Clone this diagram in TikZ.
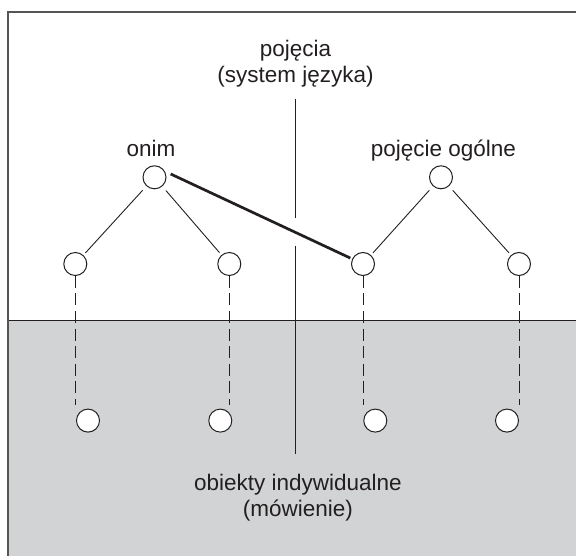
\documentclass[tikz,border=0pt]{standalone}
\usepackage{fontspec}
\setmainfont{Liberation Sans}
\usetikzlibrary{calc}

\definecolor{ink}{RGB}{35,31,32}
\definecolor{framegray}{RGB}{85,85,85}
\definecolor{speechgray}{RGB}{209,211,212}

\tikzset{
  conceptnode/.style={circle, draw=ink, line width=1pt, fill=white,
    minimum size=23pt, inner sep=0pt},
  branch/.style={draw=ink, line width=0.9pt, shorten <=5.5pt, shorten >=3pt},
  reference/.style={draw=ink, line width=2.7pt, shorten >=2pt},
  realisation/.style={draw=ink, line width=1pt, dash pattern=on 12pt off 5.5pt},
  divider/.style={draw=ink, line width=1.2pt},
  caption/.style={text=ink, inner sep=0pt, anchor=base, align=center,
    font=\fontsize{22.5}{26}\selectfont},
}

\begin{document}
\begin{tikzpicture}[x=1pt, y=-1pt]
  \useasboundingbox (0,0) rectangle (576,556);

  % lower band: the level of speech
  \fill[speechgray] (8,320) rectangle (576,556);
  \draw[ink, line width=1pt] (8,320) -- (576,320);

  % open frame
  \draw[framegray, line width=1.3pt] (576,12) -- (8,12) -- (8,556);

  % divider between the two hierarchies
  \coordinate (divtop) at (295.5,99);
  \coordinate (divgapa) at (295.5,218);
  \coordinate (divgapb) at (295.5,246);
  \coordinate (divbot) at (295.5,454);
  \draw[divider] (divtop) -- (divgapa);
  \draw[divider] (divgapb) -- (divbot);

  % captions (base anchor sits on the last line)
  \node[caption] (sys) at (295.5,83) {pojęcia\\(system języka)};
  \node[caption] (onimlbl) at (151,157) {onim};
  \node[caption] (genlbl) at (443.5,157) {pojęcie ogólne};
  \node[caption] (speech) at (298,516) {obiekty indywidualne\\(mówienie)};

  % concepts
  \node[conceptnode] (onim) at (154.5,177.3) {};
  \node[conceptnode] (gen) at (441,177.3) {};
  \node[conceptnode] (c1) at (75.3,264) {};
  \node[conceptnode] (c2) at (229.3,264) {};
  \node[conceptnode] (c3) at (363,264) {};
  \node[conceptnode] (c4) at (519,264) {};

  % individual objects
  \node[conceptnode] (o1) at (88,420.6) {};
  \node[conceptnode] (o2) at (220.3,420.6) {};
  \node[conceptnode] (o3) at (375.3,420.6) {};
  \node[conceptnode] (o4) at (507,420.6) {};

  % hierarchy branches
  \draw[branch] (onim) -- (c1);
  \draw[branch] (onim) -- (c2);
  \draw[branch] (gen) -- (c3);
  \draw[branch] (gen) -- (c4);

  % the proper name pointing at a general concept
  \coordinate (onimtip) at (170.7,174);
  \draw[reference] (onimtip) -- (c3);

  % realisation in speech
  \coordinate (d1) at (75.3,405);
  \coordinate (d2) at (229.3,405);
  \coordinate (d3) at (363,405);
  \coordinate (d4) at (519,405);
  \draw[realisation] (c1.south) -- (d1);
  \draw[realisation] (c2.south) -- (d2);
  \draw[realisation] (c3.south) -- (d3);
  \draw[realisation] (c4.south) -- (d4);
\end{tikzpicture}
\end{document}
